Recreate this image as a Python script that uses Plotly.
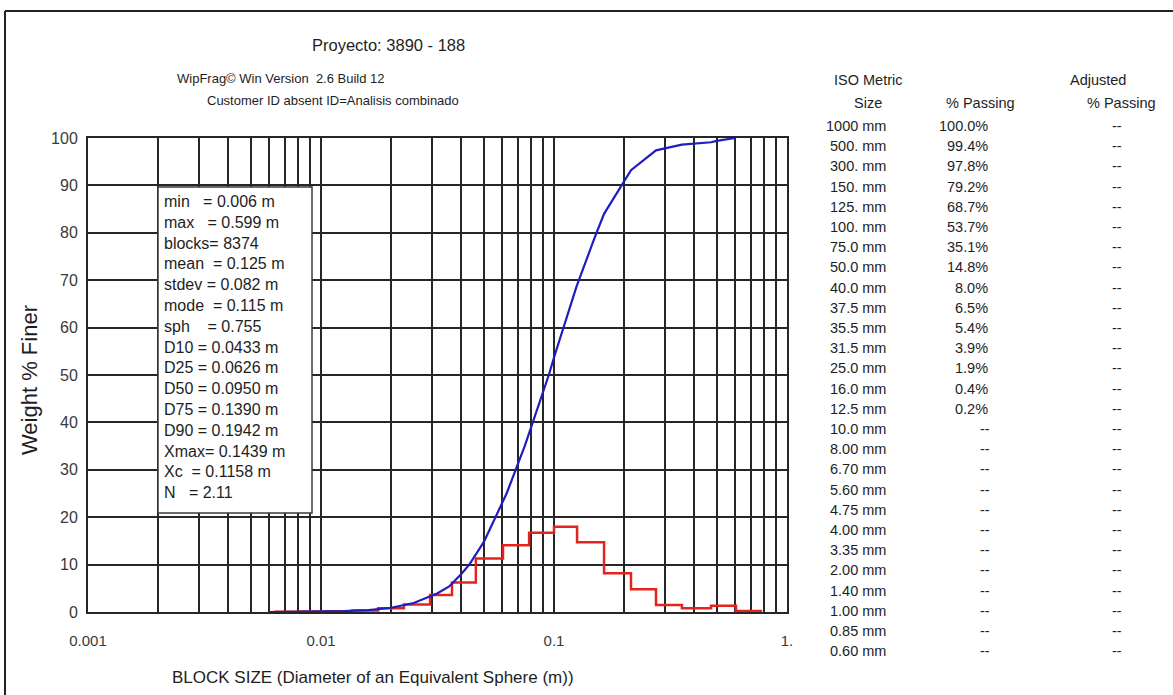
import plotly.graph_objects as go

# ---------------- data ----------------
# size-distribution histogram (red steps): bin edges (m) and % weight per bin
bin_edges = [0.0063, 0.0081, 0.0105, 0.0136, 0.0176, 0.0227, 0.0294, 0.0365, 0.0462,
             0.0604, 0.0782, 0.100, 0.1256, 0.164, 0.214, 0.274, 0.354, 0.472, 0.604, 0.782]
bin_pct = [0.05, 0.1, 0.15, 0.3, 0.8, 1.6, 3.6, 6.2, 11.3, 14.1, 16.7, 18.0, 14.7,
           8.2, 4.8, 1.5, 0.8, 1.3, 0.2]

# cumulative curve (blue): size (m) and weight % finer
cum_size = [0.006, 0.0105, 0.0125, 0.016, 0.020, 0.025, 0.0315, 0.0355, 0.0375, 0.040,
            0.0433, 0.050, 0.0626, 0.075, 0.095, 0.100, 0.125, 0.139, 0.150, 0.164,
            0.1942, 0.214, 0.274, 0.300, 0.354, 0.472, 0.500, 0.599]
cum_pct = [0.0, 0.05, 0.2, 0.4, 0.9, 1.9, 3.9, 5.4, 6.5, 8.0,
           10.0, 14.8, 25.0, 35.1, 50.0, 53.7, 68.7, 75.0, 79.2, 84.0,
           90.0, 93.2, 97.4, 97.8, 98.6, 99.1, 99.4, 100.0]

# statistics box
stat_lines = ["min\u00a0\u00a0\u00a0= 0.006 m", "max\u00a0\u00a0\u00a0= 0.599 m", "blocks= 8374",
              "mean\u00a0\u00a0= 0.125 m", "stdev = 0.082 m", "mode\u00a0\u00a0= 0.115 m",
              "sph\u00a0\u00a0\u00a0\u00a0= 0.755", "D10 = 0.0433 m", "D25 = 0.0626 m",
              "D50 = 0.0950 m", "D75 = 0.1390 m", "D90 = 0.1942 m", "Xmax= 0.1439 m",
              "Xc\u00a0\u00a0= 0.1158 m", "N\u00a0\u00a0\u00a0= 2.11"]

# ISO metric table
iso_sizes = ["1000 mm", "500. mm", "300. mm", "150. mm", "125. mm", "100. mm", "75.0 mm",
             "50.0 mm", "40.0 mm", "37.5 mm", "35.5 mm", "31.5 mm", "25.0 mm", "16.0 mm",
             "12.5 mm", "10.0 mm", "8.00 mm", "6.70 mm", "5.60 mm", "4.75 mm", "4.00 mm",
             "3.35 mm", "2.00 mm", "1.40 mm", "1.00 mm", "0.85 mm", "0.60 mm"]
iso_passing = ["100.0%", "99.4%", "97.8%", "79.2%", "68.7%", "53.7%", "35.1%", "14.8%",
               "8.0%", "6.5%", "5.4%", "3.9%", "1.9%", "0.4%", "0.2%"] + ["--"] * 12
iso_adjusted = ["--"] * 27

x_tick_labels = {0.001: "0.001", 0.01: "0.01", 0.1: "0.1", 1.0: "1."}
y_ticks = [0, 10, 20, 30, 40, 50, 60, 70, 80, 90, 100]

# ---------------- geometry helpers (pixel -> paper) ----------------
L, R, T, B = 88, 787, 138, 612
W, H = 1173, 695


def px(x):
    return (x - L) / (R - L)


def py(y):
    return (B - y) / (B - T)


FONT = "Liberation Sans, Arial, sans-serif"
GRID = "#262626"

fig = go.Figure()
fig.add_trace(go.Scatter(x=bin_edges, y=bin_pct + [bin_pct[-1]], mode="lines",
                         line=dict(color="#e4231f", width=2.5, shape="hv"),
                         showlegend=False, hoverinfo="skip"))
fig.add_trace(go.Scatter(x=cum_size, y=cum_pct, mode="lines",
                         line=dict(color="#1e1ebe", width=2.2),
                         showlegend=False, hoverinfo="skip"))

# gridline positions at 1..9 x each decade
grid_vals = [m * d for d in (0.001, 0.01, 0.1) for m in range(1, 10)] + [1.0]
grid_text = [x_tick_labels.get(round(v, 6), "") for v in grid_vals]

fig.update_xaxes(type="log", range=[-3, 0], tickvals=grid_vals, ticktext=grid_text,
                 showgrid=True, gridcolor=GRID, gridwidth=1.5, showline=True, mirror=True,
                 linecolor=GRID, linewidth=2, ticks="", zeroline=False,
                 tickfont=dict(family=FONT, size=15, color="#3a3a3a"), ticklabelstandoff=14)
fig.update_yaxes(range=[0, 100], tickvals=y_ticks, showgrid=True, gridcolor=GRID,
                 gridwidth=1.5, showline=True, mirror=True, linecolor=GRID, linewidth=2,
                 ticks="", zeroline=False,
                 tickfont=dict(family=FONT, size=16, color="#3a3a3a"), ticklabelstandoff=5)

ann = []


def note(xp, yp, text, size, xanchor="center", yanchor="middle", **kw):
    ann.append(dict(x=px(xp), y=py(yp), xref="paper", yref="paper", text=text,
                    showarrow=False, xanchor=xanchor, yanchor=yanchor,
                    font=dict(family=FONT, size=size, color="#1e1e1e"), **kw))


note(388, 45, "Proyecto: 3890 - 188", 16.5)
note(175, 78, "WipFrag\u00a9 Win Version\u00a0\u00a02.6 Build 12", 13, xanchor="left")
note(205, 100, "Customer ID absent ID=Analisis combinado", 13, xanchor="left")
note(170, 677, "BLOCK SIZE (Diameter of an Equivalent Sphere (m))", 17, xanchor="left")
note(29, 380, "Weight % Finer", 22, textangle=-90)

# stats box text
note(162, 191, "<br>".join(stat_lines), 16, xanchor="left", yanchor="top", align="left")

# table
TS = 14.5
note(868, 80, "ISO Metric", TS)
note(868, 103, "Size", TS)
note(980, 103, "% Passing", TS)
note(1098, 80, "Adjusted", TS)
note(1121, 103, "% Passing", TS)
row0, drow = 126, 20.2
for i, (s, p, a) in enumerate(zip(iso_sizes, iso_passing, iso_adjusted)):
    yy = row0 + i * drow
    note(888, yy, s, TS, xanchor="right")
    if p == "--":
        note(985, yy, p, TS)
    else:
        note(990, yy, p, TS, xanchor="right")
    note(1117, yy, a, TS)

shapes = [
    dict(type="rect", xref="paper", yref="paper", x0=px(158), x1=px(312), y0=py(513),
         y1=py(187), fillcolor="white", line=dict(color="#3a3a3a", width=1.5), layer="above"),
    dict(type="line", xref="paper", yref="paper", x0=px(5), x1=px(W + 5), y0=py(11),
         y1=py(11), line=dict(color="#222", width=2)),
    dict(type="line", xref="paper", yref="paper", x0=px(5), x1=px(5), y0=py(11),
         y1=py(H + 5), line=dict(color="#222", width=2)),
]

fig.update_layout(width=W, height=H, margin=dict(l=L, r=W - R, t=T, b=H - B, pad=0),
                  paper_bgcolor="white", plot_bgcolor="white", annotations=ann, shapes=shapes,
                  showlegend=False)

fig.write_html("out.html", config={"displayModeBar": False},
               post_script="document.body.style.margin='0';document.body.style.overflow='hidden';")
